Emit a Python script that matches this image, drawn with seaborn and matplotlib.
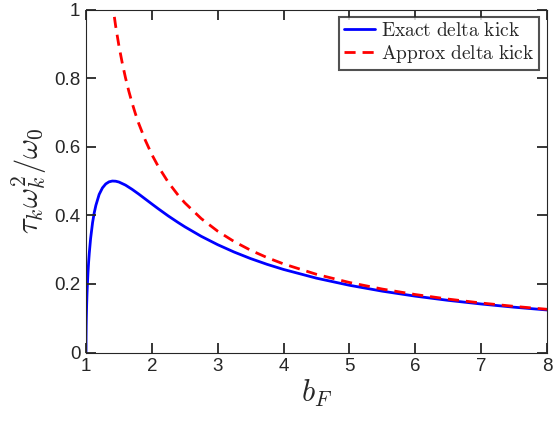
import pandas as pd
import matplotlib
matplotlib.use("Agg")
import matplotlib.pyplot as plt
from matplotlib.ticker import StrMethodFormatter
import seaborn as sns

# Values
exact_b = [1.0, 1.001, 1.003, 1.005, 1.01, 1.015, 1.02, 1.03, 1.04, 1.05, 1.07, 1.1,
           1.125, 1.15, 1.2, 1.25, 1.3, 1.35, 1.4, 1.45, 1.5, 1.6, 1.7, 1.8, 1.9,
           2.0, 2.1, 2.25, 2.4, 2.5, 2.75, 3.0, 3.25, 3.5, 3.75, 4.0, 4.5, 5.0,
           5.5, 6.0, 6.5, 7.0, 7.5, 8.0]
exact_y = [0.0, 0.0446, 0.0771, 0.0991, 0.139, 0.1688, 0.193, 0.2326, 0.2641, 0.290,
           0.3325, 0.379, 0.4072, 0.429, 0.461, 0.480, 0.4915, 0.4976, 0.4999, 0.4994,
           0.497, 0.488, 0.4757, 0.462, 0.4475, 0.433, 0.4187, 0.398, 0.3788, 0.3666,
           0.3387, 0.3143, 0.2928, 0.2738, 0.2570, 0.2421, 0.2167, 0.196, 0.1788,
           0.1643, 0.152, 0.1414, 0.1321, 0.124]
approx_b = [1.38, 1.4, 1.45, 1.5, 1.55, 1.6, 1.65, 1.7, 1.75, 1.8, 1.9, 2.0, 2.1,
            2.25, 2.4, 2.5, 2.75, 3.0, 3.25, 3.5, 3.75, 4.0, 4.5, 5.0, 5.5, 6.0,
            6.5, 7.0, 7.5, 8.0]
approx_y = [1.0515, 1.0206, 0.952, 0.894, 0.8444, 0.8006, 0.762, 0.7274, 0.6963,
            0.668, 0.619, 0.577, 0.5415, 0.496, 0.4584, 0.4364, 0.3904, 0.3536,
            0.3234, 0.2981, 0.2767, 0.2582, 0.2279, 0.2041, 0.1849, 0.169, 0.1557,
            0.1443, 0.1345, 0.126]
x_ticks = [1, 2, 3, 4, 5, 6, 7, 8]
y_ticks = [0, 0.2, 0.4, 0.6, 0.8, 1]

sns.set_style("ticks", rc={
    "xtick.bottom": True, "xtick.top": True, "ytick.left": True, "ytick.right": True,
    "xtick.direction": "in", "ytick.direction": "in",
    "axes.axisbelow": False,
    "axes.linewidth": 1.5, "axes.edgecolor": "#262626",
    "axes.spines.top": True, "axes.spines.right": True,
})
plt.rcParams["font.family"] = ["Liberation Sans", "DejaVu Sans"]
plt.rcParams["mathtext.fontset"] = "cm"

df_exact = pd.DataFrame({"b": exact_b, "y": exact_y})
df_approx = pd.DataFrame({"b": approx_b, "y": approx_y})

fig = plt.figure(figsize=(5.54, 4.22), dpi=100)
ax = fig.add_axes([86 / 554, 1 - 352.5 / 422, (547 - 86) / 554, (352.5 - 9.5) / 422])

sns.lineplot(data=df_exact, x="b", y="y", ax=ax, color="#0000ff", lw=2.0,
             label=r"$\mathrm{Exact\ delta\ kick}$")
sns.lineplot(data=df_approx, x="b", y="y", ax=ax, color="#ff0000", lw=2.0,
             linestyle=(0, (4, 2.5)), label=r"$\mathrm{Approx\ delta\ kick}$")

ax.set_xlim(1, 8)
ax.set_ylim(0, 1)
ax.set_xticks(x_ticks)
ax.set_yticks(y_ticks)
ax.yaxis.set_major_formatter(StrMethodFormatter("{x:g}"))

ax.set_xlabel(r"$b_F$", fontsize=22, labelpad=2)
ax.set_ylabel(r"$\tau_k\omega_k^2/\omega_0$", fontsize=22, labelpad=4)

leg = ax.legend(loc="upper right", fontsize=14, frameon=True, fancybox=False,
                handlelength=1.6, handletextpad=0.3, borderpad=0.25,
                labelspacing=0.15, borderaxespad=0.4)
leg.get_frame().set_edgecolor("#262626")
leg.get_frame().set_linewidth(1.5)

ax.xaxis.set_ticks_position("both")
ax.yaxis.set_ticks_position("both")
ax.tick_params(axis="both", which="major", direction="in", length=7, width=1.3,
               color="#262626", labelcolor="#262626", labelsize=13.5, pad=4)

fig.savefig("out.png", dpi=100)
